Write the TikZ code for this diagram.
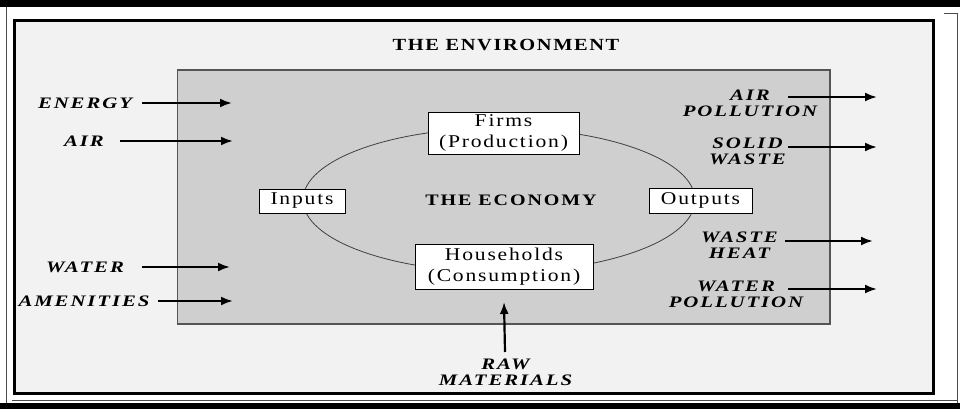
\documentclass[tikz,border=0pt]{standalone}
\usepackage{fontspec}
\setmainfont{Liberation Serif}
\newfontfamily\labfont[LetterSpace=12,FakeStretch=1.3]{Liberation Serif}
\newfontfamily\titfont[LetterSpace=9.5,FakeStretch=1.2]{Liberation Serif}
\newfontfamily\ecofont[LetterSpace=12,FakeStretch=1.25]{Liberation Serif}
\newfontfamily\boxfont[LetterSpace=10,FakeStretch=1.2]{Liberation Serif}
\usetikzlibrary{arrows.meta}
\definecolor{envgray}{HTML}{F2F2F2}
\definecolor{ecogray}{HTML}{CFCFCF}
\definecolor{edgegray}{HTML}{555555}
\begin{document}
\begin{tikzpicture}[x=1pt,y=-1pt,
  lab/.style={font=\labfont\bfseries\itshape\fontsize{16}{16}\selectfont, align=center, inner sep=0pt},
  sectorbox/.style={draw=black, line width=0.9pt, fill=white, inner sep=0pt, align=center,
    font=\boxfont\fontsize{18}{21}\selectfont},
  flow/.style={line width=2.2pt, -{Latex[length=12pt,width=9pt]}}
]
\useasboundingbox (0,0) rectangle (960,409);
\fill[white] (0,0) rectangle (960,409);
% outer frame
\fill[black] (0,0) rectangle (960,7);
\fill[black] (0,403) rectangle (960,409);
\draw[gray!60!black, line width=0.8pt] (6,7) -- (6,403);
\draw[gray!60!black, line width=0.8pt] (957,13) -- (957,403);
\draw[gray!60!black, line width=0.8pt] (12,400.5) -- (957,400.5);
\draw[gray!60!black, line width=0.8pt] (944,13) -- (957,13);
% environment box
\draw[black, line width=3pt, fill=envgray] (14.5,20.5) rectangle (933,393.5);
\node[font=\titfont\bfseries\fontsize{17}{18}\selectfont, inner sep=0pt] (title) at (506,45) {THE ENVIRONMENT};
% economy box
\draw[edgegray, line width=1.3pt, fill=ecogray] (177.5,70) rectangle (830,324);
\node[font=\ecofont\bfseries\fontsize{16}{17}\selectfont, inner sep=0pt] (economy) at (511,200) {THE ECONOMY};
% circular flow
\draw[black!75, line width=0.8pt] (499,200) ellipse [x radius=196pt, y radius=72pt];
\node[sectorbox, minimum width=151pt, minimum height=42pt] (firms) at (503.5,133) {Firms\\(Production)};
\node[sectorbox, minimum width=178pt, minimum height=45pt] (households) at (504,266.5) {Households\\(Consumption)};
\node[sectorbox, minimum width=86pt, minimum height=24pt] (inputs) at (302,201) {Inputs};
\node[sectorbox, minimum width=103pt, minimum height=25pt] (outputs) at (700.5,200.5) {Outputs};
% left inputs
\node[lab] (energy) at (85,103) {ENERGY};
\node[lab] (air) at (84,141) {AIR};
\node[lab] (water) at (85,267) {WATER};
\node[lab] (amenities) at (84,301) {AMENITIES};
\coordinate (energyS) at (142,103);  \coordinate (energyE) at (232,103);
\coordinate (airS) at (120,141);     \coordinate (airE) at (233,141);
\coordinate (waterS) at (142,267);   \coordinate (waterE) at (230,267);
\coordinate (amenS) at (158,301);    \coordinate (amenE) at (233,301);
\draw[flow] (energyS) -- (energyE);
\draw[flow] (airS) -- (airE);
\draw[flow] (waterS) -- (waterE);
\draw[flow] (amenS) -- (amenE);
% right outputs
\node[lab] (airpol) at (750,103) {AIR\\POLLUTION};
\node[lab] (solid) at (747.5,151) {SOLID\\WASTE};
\node[lab] (heat) at (739.5,245) {WASTE\\HEAT};
\node[lab] (waterpol) at (736,294.5) {WATER\\POLLUTION};
\coordinate (airpolS) at (788,97);   \coordinate (airpolE) at (877,97);
\coordinate (solidS) at (788,147);   \coordinate (solidE) at (877,147);
\coordinate (heatS) at (785,241);    \coordinate (heatE) at (873,241);
\coordinate (waterpolS) at (788,289); \coordinate (waterpolE) at (877,289);
\draw[flow] (airpolS) -- (airpolE);
\draw[flow] (solidS) -- (solidE);
\draw[flow] (heatS) -- (heatE);
\draw[flow] (waterpolS) -- (waterpolE);
% raw materials
\node[lab] (raw) at (505.5,372) {RAW\\MATERIALS};
\coordinate (rawS) at (505,352);
\draw[flow] (rawS) -- (households.south |- 0,302);
\end{tikzpicture}
\end{document}
